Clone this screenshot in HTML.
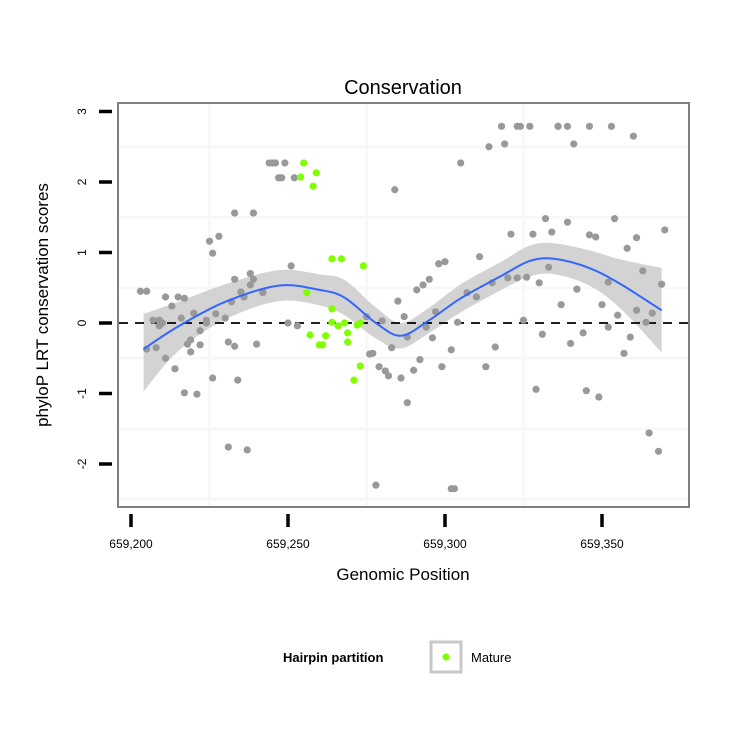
<!DOCTYPE html>
<html><head><meta charset="utf-8">
<style>
html,body{margin:0;padding:0;background:#fff;}
svg text{font-family:"Liberation Sans",sans-serif;}
</style></head>
<body>
<svg id="chart" width="750" height="750" viewBox="0 0 750 750" xmlns="http://www.w3.org/2000/svg">
<text x="403" y="94" font-size="20" text-anchor="middle">Conservation</text>
<text transform="translate(48,305) rotate(-90)" font-size="17" text-anchor="middle">phyloP LRT conservation scores</text>
<text x="403" y="580" font-size="17" text-anchor="middle">Genomic Position</text>
<g id="grid"></g>
<g id="band"></g>
<g id="zero"></g>
<g id="pts"></g>
<g id="fit"></g>
<rect x="118" y="103" width="571" height="404" fill="none" stroke="#808080" stroke-width="2"/>
<g id="axes"></g>
<g>
<text x="283" y="662" font-size="13" font-weight="bold">Hairpin partition</text>
<rect x="431" y="642" width="30" height="30" fill="#fff" stroke="#c8c8c8" stroke-width="3"/>
<circle cx="446" cy="657" r="3.6" fill="#7fff00"/>
<text x="471" y="662" font-size="13">Mature</text>
</g>
</svg>
<script>
const xTicks=[659200,659250,659300,659350];
const xTickLabels=["659,200","659,250","659,300","659,350"];
const yTicks=[3,2,1,0,-1,-2];
const yTickLabels=["3","2","1","0","-1","-2"];
const grayX=[659203,659205,659211,659215,659213,659217,659207,659210,659209,659209,659216,659220,659205,659208,659211,659214,659217,659221,659219,659218,659219,659222,659224,659222,659224,659227,659230,659231,659232,659233,659235,659238,659238,659239,659242,659242,659236,659226,659225,659228,659233,659239,659244,659245,659246,659249,659247,659248,659252,659251,659250,659253,659240,659233,659226,659234,659231,659237,659278,659284,659285,659287,659283,659276,659277,659279,659281,659282,659286,659275,659280,659288,
659318,659323,659324,659327,659336,659336,659339,659346,659353,659360,659314,659319,659341,659305,659332,659354,659339,659321,659328,659334,659346,659348,659361,659358,659370,659311,659298,659300,659295,659293,659291,659333,659363,659369,659352,659342,659330,659326,659323,659320,659315,659307,659310,659337,659350,659361,659366,659355,659297,659304,659325,659364,659294,659288,659296,659352,659331,659344,659340,659359,659316,659302,659357,659292,659290,659299,659313,659329,659345,659349,659365,659368,659302,659303];
const grayY=[0.45,0.45,0.37,0.37,0.24,0.35,0.04,0.00,-0.04,0.04,0.07,0.14,-0.37,-0.35,-0.50,-0.65,-0.99,-1.01,-0.41,-0.30,-0.24,-0.31,0.00,-0.11,0.04,0.13,0.07,-0.27,0.30,0.62,0.44,0.70,0.54,0.62,0.44,0.43,0.37,0.99,1.16,1.23,1.56,1.56,2.27,2.27,2.27,2.27,2.06,2.06,2.06,0.81,0.00,-0.04,-0.30,-0.33,-0.78,-0.81,-1.76,-1.80,-2.30,1.89,0.31,0.09,-0.35,-0.44,-0.43,-0.62,-0.68,-0.75,-0.78,0.09,0.03,-1.13,
2.79,2.79,2.79,2.79,2.79,2.79,2.79,2.79,2.79,2.65,2.50,2.54,2.54,2.27,1.48,1.48,1.43,1.26,1.26,1.29,1.25,1.22,1.21,1.06,1.32,0.94,0.84,0.87,0.62,0.54,0.47,0.79,0.74,0.55,0.58,0.48,0.57,0.65,0.64,0.64,0.57,0.43,0.37,0.26,0.26,0.18,0.14,0.11,0.16,0.01,0.04,0.01,-0.06,-0.20,-0.21,-0.06,-0.16,-0.14,-0.29,-0.20,-0.34,-0.38,-0.43,-0.52,-0.67,-0.62,-0.62,-0.94,-0.96,-1.05,-1.56,-1.82,-2.35,-2.35];
const matureX=[659255,659259,659254,659258,659264,659267,659274,659256,659264,659264,659266,659268,659272,659273,659257,659262,659260,659261,659269,659269,659273,659271];
const matureY=[2.27,2.13,2.07,1.94,0.91,0.91,0.81,0.43,0.20,0.01,-0.04,0.00,-0.03,0.00,-0.17,-0.18,-0.31,-0.31,-0.27,-0.14,-0.61,-0.81];
const fitX=[659204,659215,659230,659247,659260,659268,659278,659286,659295,659305,659318,659327,659335,659346,659356,659369];
const fitY=[-0.37,-0.05,0.30,0.53,0.47,0.36,0.00,-0.18,0.04,0.35,0.67,0.88,0.91,0.78,0.55,0.18];
const fitLower=[-0.97,-0.40,0.05,0.31,0.25,0.11,-0.22,-0.36,-0.14,0.15,0.47,0.66,0.69,0.53,0.20,-0.42];
const fitUpper=[0.13,0.30,0.55,0.75,0.69,0.61,0.22,0.00,0.22,0.55,0.87,1.10,1.13,1.03,0.90,0.78];

const NS="http://www.w3.org/2000/svg";
function sx(v){return 131+(v-659200)*3.14;}
function sy(v){return 323-v*70.5;}
function mk(tag,attrs,parent){const e=document.createElementNS(NS,tag);for(const k in attrs)e.setAttribute(k,attrs[k]);parent.appendChild(e);return e;}
function smooth(pts){let d="M"+pts[0][0]+","+pts[0][1];for(let i=0;i<pts.length-1;i++){const p0=pts[Math.max(0,i-1)],p1=pts[i],p2=pts[i+1],p3=pts[Math.min(pts.length-1,i+2)];const c1x=p1[0]+(p2[0]-p0[0])/6,c1y=p1[1]+(p2[1]-p0[1])/6,c2x=p2[0]-(p3[0]-p1[0])/6,c2y=p2[1]-(p3[1]-p1[1])/6;d+=" C"+c1x+","+c1y+" "+c2x+","+c2y+" "+p2[0]+","+p2[1];}return d;}

const grid=document.getElementById('grid');
[2.5,1.5,0.5,-0.5,-1.5,-2.5].forEach(v=>{const l=mk('line',{x1:119,x2:688,y1:sy(v),y2:sy(v),stroke:'#f7f7f7','stroke-width':2.5},grid);

});
[659225,659275,659325].forEach(v=>{const l=mk('line',{x1:sx(v),x2:sx(v),y1:104,y2:506,stroke:'#f7f7f7','stroke-width':2.5},grid);

});

const band=document.getElementById('band');
const up=fitX.map((x,i)=>[sx(x),sy(fitUpper[i])]);
const lo=fitX.map((x,i)=>[sx(x),sy(fitLower[i])]).reverse();
let bd=smooth(up)+" L"+lo[0][0]+","+lo[0][1]+smooth(lo).replace(/^M[^C]*/,' ')+" Z";
const bp=mk('path',{d:bd,fill:'#d3d3d3'},band);



const zero=document.getElementById('zero');
const zl=mk('line',{x1:119,x2:688,y1:sy(0),y2:sy(0),stroke:'#000','stroke-width':1.8,'stroke-dasharray':'9,7'},zero);



const pts=document.getElementById('pts');
grayX.forEach((x,i)=>{const c=mk('circle',{cx:sx(x),cy:sy(grayY[i]),r:3.6,fill:'#999999'},pts);

});
matureX.forEach((x,i)=>{const c=mk('circle',{cx:sx(x),cy:sy(matureY[i]),r:3.6,fill:'#7fff00'},pts);

});

const fit=document.getElementById('fit');
const fp=mk('path',{d:smooth(fitX.map((x,i)=>[sx(x),sy(fitY[i])])),fill:'none',stroke:'#3366ff','stroke-width':2},fit);



const axes=document.getElementById('axes');
xTicks.forEach((v,i)=>{const t=mk('line',{x1:sx(v),x2:sx(v),y1:514,y2:527,stroke:'#000','stroke-width':3.5},axes);


const tx=mk('text',{x:sx(v),y:548,'font-size':12,'text-anchor':'middle'},axes);tx.textContent=xTickLabels[i];

});
yTicks.forEach((v,i)=>{const t=mk('line',{x1:99,x2:112,y1:sy(v),y2:sy(v),stroke:'#000','stroke-width':3.5},axes);


const tx=mk('text',{transform:'translate(86,'+sy(v)+') rotate(-90)','font-size':12,'text-anchor':'middle'},axes);tx.textContent=yTickLabels[i];

});
</script>
</body></html>
